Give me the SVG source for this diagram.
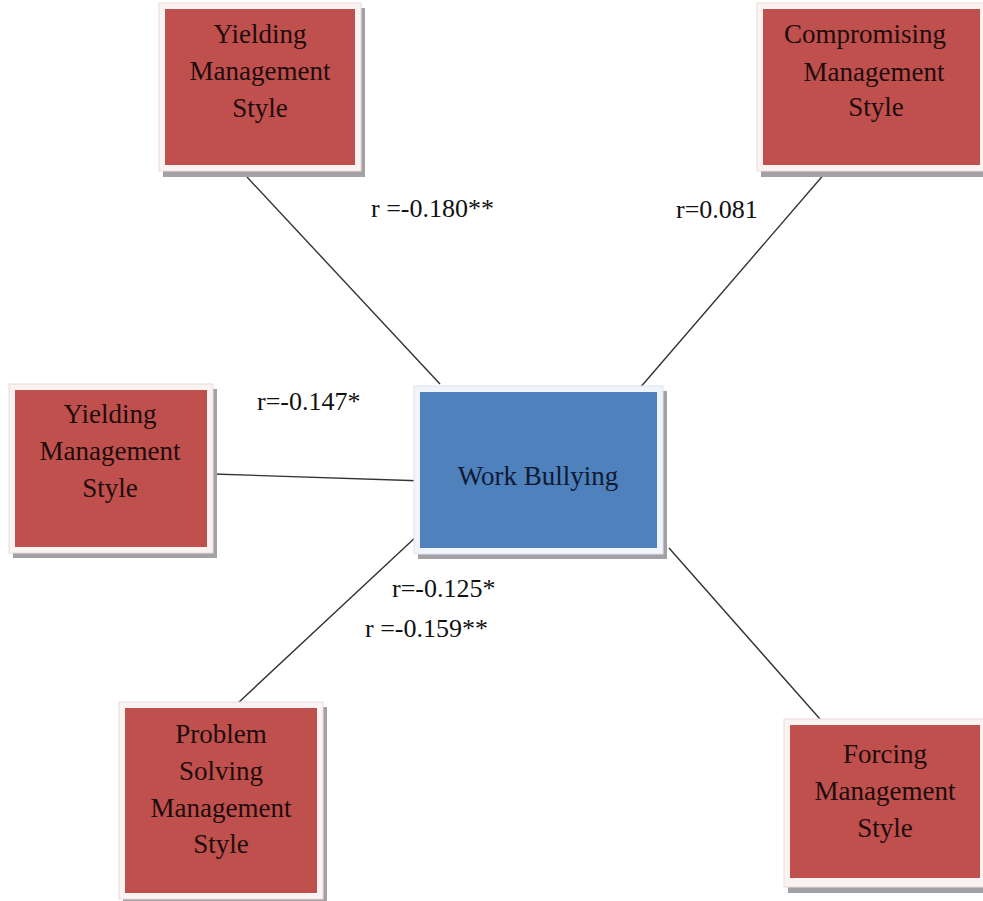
<svg xmlns="http://www.w3.org/2000/svg" width="983" height="901" viewBox="0 0 983 901">
  <defs>
    <style>
      .shadow { fill: #a3a1a6; }
      .frame-r { fill: #fbf3f1; stroke: #eadcdc; stroke-width: 1; }
      .frame-b { fill: #f1f5fb; stroke: #dde4ee; stroke-width: 1; }
      .red { fill: #c0504d; }
      .blue { fill: #4f81bd; }
      text { font-family: 'Liberation Serif', 'Times New Roman', 'DejaVu Serif', serif; }
      .lbl { font-size: 27px; fill: #1e0c0c; text-anchor: middle; }
      .lbl-b { font-size: 27px; fill: #0e1a33; text-anchor: middle; }
      .coef { font-size: 26px; fill: #111; }
      .conn { stroke: #333; stroke-width: 1.4; fill: none; }
    </style>
  </defs>
  <rect width="983" height="901" fill="#ffffff"/>

  <!-- connectors -->
  <g id="connectors">
    <line class="conn" x1="247" y1="177" x2="440" y2="384"/>
    <line class="conn" x1="826" y1="172" x2="639" y2="389"/>
    <line class="conn" x1="213" y1="474" x2="425" y2="481"/>
    <line class="conn" x1="238" y1="703" x2="418" y2="535"/>
    <line class="conn" x1="669" y1="548" x2="820" y2="719"/>
  </g>

  <!-- coefficient labels -->
  <g id="coefficients">
    <text class="coef" x="371" y="217" font-family="Liberation Serif, serif">r =-0.180**</text>
    <text class="coef" x="676" y="218">r=0.081</text>
    <text class="coef" x="257" y="410">r=-0.147*</text>
    <text class="coef" x="392" y="597">r=-0.125*</text>
    <text class="coef" x="365" y="637">r =-0.159**</text>
  </g>

  <g id="yielding-top">
    <rect class="shadow" x="163" y="8" width="202" height="169"/>
    <rect class="frame-r" x="159" y="3" width="202" height="168"/>
    <rect class="red" x="165" y="9" width="190" height="156"/>
    <text class="lbl" x="260" y="43">Yielding</text>
    <text class="lbl" x="260" y="80">Management</text>
    <text class="lbl" x="260" y="117">Style</text>
  </g>

  <g id="compromising">
    <rect class="shadow" x="761" y="8" width="230" height="169"/>
    <rect class="frame-r" x="757" y="3" width="232" height="168"/>
    <rect class="red" x="763" y="9" width="217" height="156"/>
    <text class="lbl" x="865" y="43">Compromising</text>
    <text class="lbl" x="874" y="81">Management</text>
    <text class="lbl" x="876" y="116">Style</text>
  </g>

  <g id="yielding-left">
    <rect class="shadow" x="13" y="389" width="204" height="169"/>
    <rect class="frame-r" x="9" y="384" width="204" height="169"/>
    <rect class="red" x="15" y="390" width="192" height="157"/>
    <text class="lbl" x="110" y="423">Yielding</text>
    <text class="lbl" x="110" y="460">Management</text>
    <text class="lbl" x="110" y="497">Style</text>
  </g>

  <g id="work-bullying">
    <rect class="shadow" x="418" y="391" width="249" height="168"/>
    <rect class="frame-b" x="414" y="386" width="249" height="168"/>
    <rect class="blue" x="420" y="392" width="237" height="156"/>
    <text class="lbl-b" x="538" y="485">Work Bullying</text>
  </g>

  <g id="problem-solving">
    <rect class="shadow" x="123" y="707" width="204" height="197"/>
    <rect class="frame-r" x="119" y="702" width="204" height="197"/>
    <rect class="red" x="125" y="708" width="192" height="185"/>
    <text class="lbl" x="221" y="743">Problem</text>
    <text class="lbl" x="221" y="780">Solving</text>
    <text class="lbl" x="221" y="817">Management</text>
    <text class="lbl" x="221" y="853">Style</text>
  </g>

  <g id="forcing">
    <rect class="shadow" x="788" y="724" width="202" height="169"/>
    <rect class="frame-r" x="784" y="719" width="202" height="168"/>
    <rect class="red" x="790" y="725" width="190" height="153"/>
    <text class="lbl" x="885" y="763">Forcing</text>
    <text class="lbl" x="885" y="800">Management</text>
    <text class="lbl" x="885" y="837">Style</text>
  </g>
</svg>
